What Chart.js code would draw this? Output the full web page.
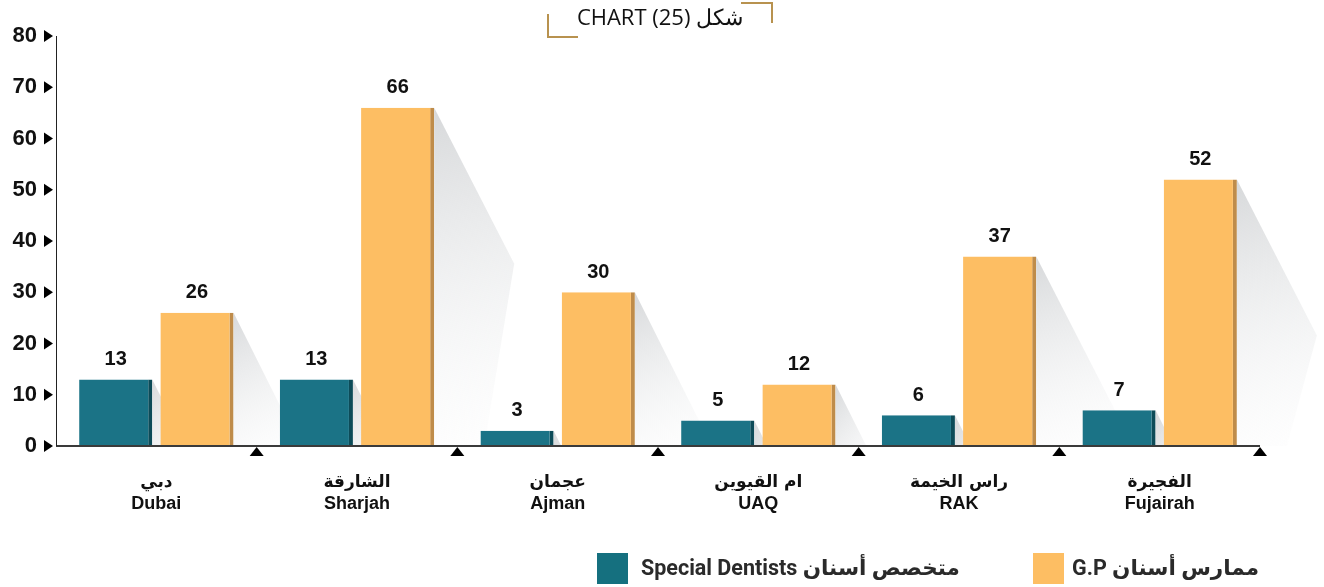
<!DOCTYPE html>
<html>
<head>
<meta charset="utf-8">
<script src="https://cdn.jsdelivr.net/npm/chart.js@4.4.1/dist/chart.umd.min.js"></script>
<style>
  html, body { margin: 0; padding: 0; background: #fff; }
  #wrap { width: 1324px; height: 587px; }
</style>
</head>
<body>
<div id="wrap"><canvas id="bars"></canvas></div>
<script>
const regionsArabic = ['دبي', 'الشارقة', 'عجمان', 'ام القيوين', 'راس الخيمة', 'الفجيرة']
const regionsEnglish = ['Dubai', 'Sharjah', 'Ajman', 'UAQ', 'RAK', 'Fujairah']
const specialDentists = [13, 13, 3, 5, 6, 7]
const generalPractitioners = [26, 66, 30, 12, 37, 52]
const yMax = 80
const yStep = 10

const titleText = 'CHART (25) شكل'
const legendSpecial = 'Special Dentists متخصص أسنان'
const legendGP = 'G.P ممارس أسنان'

const teal = '#1b7386'
const tealEdge = '#0d4b58'
const orange = '#fdbe63'
const orangeEdge = '#bf8c4a'
const gold = '#b8924f'

// grey fading shadow cast to the right of every bar
const shadowPlugin = {
    id: 'barShadow',
    beforeDatasetsDraw(chart) {
        const ctx = chart.ctx
        const area = chart.chartArea
        ctx.save()
        ctx.beginPath()
        ctx.rect(area.left, area.top - 5, chart.width - area.left, area.bottom - area.top + 5)
        ctx.clip()
        chart.data.datasets.forEach((ds, i) => {
            chart.getDatasetMeta(i).data.forEach(bar => {
                const r = bar.x + bar.width / 2
                const top = bar.y
                const base = bar.base
                const h = base - top
                const g = ctx.createLinearGradient(r, top, r + 70, base)
                g.addColorStop(0, 'rgba(208,210,212,0.85)')
                g.addColorStop(1, 'rgba(242,243,244,0.1)')
                ctx.fillStyle = g
                ctx.beginPath()
                ctx.moveTo(r, top)
                if (h > 170) {
                    ctx.lineTo(r + 80, top + 156)
                    ctx.lineTo(r + 50, base)
                } else {
                    ctx.lineTo(r + h * 0.5, base)
                }
                ctx.lineTo(r, base)
                ctx.closePath()
                ctx.fill()
            })
        })
        ctx.restore()
    }
}

const decorPlugin = {
    id: 'decor',
    afterDraw(chart) {
        const ctx = chart.ctx
        const area = chart.chartArea
        const x = chart.scales.x
        const y = chart.scales.y
        ctx.save()

        // value labels
        ctx.fillStyle = '#111'
        ctx.font = 'bold 20px "Liberation Sans", Arial, sans-serif'
        ctx.textAlign = 'center'
        ctx.textBaseline = 'middle'
        chart.data.datasets.forEach((ds, i) => {
            chart.getDatasetMeta(i).data.forEach((bar, j) => {
                ctx.fillText(String(ds.data[j]), bar.x, bar.y - 20)
            })
        })

        // category labels, arabic over english
        regionsEnglish.forEach((e, i) => {
            const px = x.getPixelForValue(i)
            ctx.font = 'bold 17px "DejaVu Sans", sans-serif'
            ctx.fillText(regionsArabic[i], px, area.bottom + 37)
            ctx.font = 'bold 18px "Liberation Sans", Arial, sans-serif'
            ctx.fillText(e, px, area.bottom + 58)
        })

        // x axis line
        ctx.strokeStyle = '#3a3a3a'
        ctx.lineWidth = 2
        ctx.beginPath()
        ctx.moveTo(area.left, area.bottom)
        ctx.lineTo(area.right, area.bottom)
        ctx.stroke()

        // y axis line
        ctx.lineWidth = 1
        ctx.strokeStyle = '#222'
        ctx.beginPath()
        ctx.moveTo(area.left + 0.5, area.top)
        ctx.lineTo(area.left + 0.5, area.bottom)
        ctx.stroke()

        // up-pointing markers at category boundaries
        ctx.fillStyle = '#000'
        const half = (x.getPixelForValue(1) - x.getPixelForValue(0)) / 2
        for (let i = 0; i < regionsEnglish.length; i++) {
            const px = x.getPixelForValue(i) + half
            ctx.beginPath()
            ctx.moveTo(px, area.bottom + 1)
            ctx.lineTo(px + 7, area.bottom + 10)
            ctx.lineTo(px - 7, area.bottom + 10)
            ctx.closePath()
            ctx.fill()
        }

        // right-pointing markers next to y ticks
        for (let v = 0; v <= yMax; v += yStep) {
            const py = y.getPixelForValue(v)
            ctx.beginPath()
            ctx.moveTo(area.left - 12, py - 6)
            ctx.lineTo(area.left - 3, py)
            ctx.lineTo(area.left - 12, py + 6)
            ctx.closePath()
            ctx.fill()
        }

        // title with gold corner brackets
        ctx.fillStyle = '#111'
        ctx.font = '22px "Open Sans", sans-serif'
        ctx.textAlign = 'center'
        ctx.fillText(titleText, 660, 19)
        ctx.strokeStyle = gold
        ctx.lineWidth = 2
        ctx.beginPath()
        ctx.moveTo(741, 3)
        ctx.lineTo(772, 3)
        ctx.lineTo(772, 23)
        ctx.stroke()
        ctx.beginPath()
        ctx.moveTo(548, 14)
        ctx.lineTo(548, 37)
        ctx.lineTo(578, 37)
        ctx.stroke()

        // legend
        ctx.font = 'bold 21.5px Roboto, "DejaVu Sans", sans-serif'
        ctx.textAlign = 'left'
        ctx.fillStyle = '#15707f'
        ctx.fillRect(597, 553, 31, 31)
        ctx.fillStyle = orange
        ctx.fillRect(1033, 553, 31, 31)
        ctx.fillStyle = '#2a2a2a'
        ctx.fillText(legendSpecial, 641, 570)
        ctx.fillText(legendGP, 1072, 570)

        ctx.restore()
    }
}

const barConfig = {
    type: 'bar',
    data: {
        labels: regionsEnglish,
        datasets: [
            {
                label: legendSpecial,
                backgroundColor: teal,
                borderColor: tealEdge,
                borderWidth: {top: 0, left: 0, bottom: 0, right: 4},
                borderSkipped: false,
                data: specialDentists,
            },
            {
                label: legendGP,
                backgroundColor: orange,
                borderColor: orangeEdge,
                borderWidth: {top: 0, left: 0, bottom: 0, right: 4},
                borderSkipped: false,
                data: generalPractitioners,
            },
        ],
    },
    options: {
        responsive: true,
        maintainAspectRatio: false,
        animation: false,
        categoryPercentage: 0.81,
        barPercentage: 0.9,
        layout: {
            padding: {top: 36, right: 64, bottom: 0, left: 0},
        },
        plugins: {
            legend: {display: false},
            tooltip: {enabled: false},
        },
        scales: {
            x: {
                grid: {display: false, drawTicks: false},
                border: {display: false},
                ticks: {display: false},
                afterFit: s => { s.height = 141 },
            },
            y: {
                min: 0,
                max: yMax,
                grid: {display: false, drawTicks: false},
                border: {display: false},
                ticks: {
                    stepSize: yStep,
                    color: '#111',
                    padding: 19,
                    font: {family: '"Liberation Sans", Arial, sans-serif', weight: 'bold', size: 22},
                },
                afterFit: s => { s.width = 56 },
            },
        },
    },
    plugins: [shadowPlugin, decorPlugin],
}

new Chart(document.getElementById('bars'), barConfig)
</script>
</body>
</html>
